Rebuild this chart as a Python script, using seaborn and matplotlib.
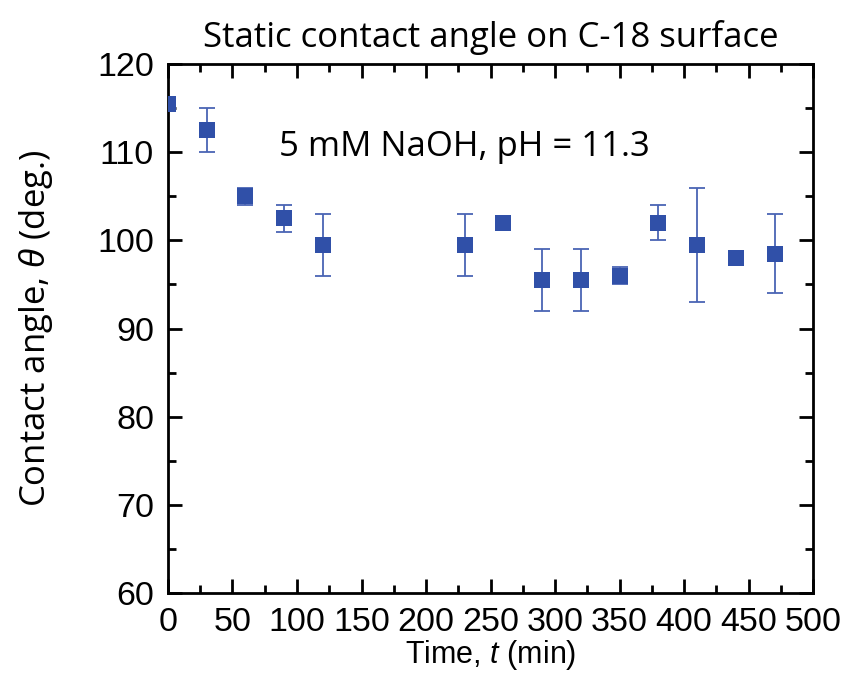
import matplotlib
matplotlib.use("Agg")
import matplotlib.pyplot as plt
import seaborn as sns
import pandas as pd
from matplotlib.ticker import MultipleLocator

# 時間 (min) と接触角 (deg.)
time_min = [0, 30, 60, 90, 120, 230, 260, 290, 320, 350, 380, 410, 440, 470]
angle = [115.5, 112.5, 105.0, 102.5, 99.5, 99.5, 102.0, 95.5, 95.5, 96.0, 102.0, 99.5, 98.0, 98.5]
err_low = [0.0, 2.5, 1.0, 1.5, 3.5, 3.5, 0.0, 3.5, 3.5, 1.0, 2.0, 6.5, 0.0, 4.5]
err_high = [0.0, 2.5, 1.0, 1.5, 3.5, 3.5, 0.0, 3.5, 3.5, 1.0, 2.0, 6.5, 0.0, 4.5]

df = pd.DataFrame({"time": time_min, "angle": angle})

sns.set_style("ticks")
plt.rcParams['font.family'] = ['Liberation Sans', 'DejaVu Sans']
plt.rcParams['text.color'] = 'black'
plt.rcParams['axes.labelcolor'] = 'black'
plt.rcParams['xtick.color'] = 'black'
plt.rcParams['ytick.color'] = 'black'
plt.rcParams['mathtext.fontset'] = 'custom'
plt.rcParams['mathtext.it'] = 'Liberation Sans:italic'
plt.rcParams['mathtext.rm'] = 'Liberation Sans'

fig = plt.figure(figsize=(8.48, 6.75), dpi=100)
ax = fig.add_axes([0.198, 0.1215, 0.761, 0.7835])

blue = "#3050a8"

# エラーバー
ax.errorbar(time_min, angle, yerr=[err_low, err_high], fmt="none",
            ecolor="#4a64b4", elinewidth=1.3, capsize=6, capthick=1.3, zorder=2)

# 散布図
sns.scatterplot(data=df, x="time", y="angle", marker="s", s=145, color=blue,
                edgecolor=blue, linewidth=0, ax=ax, zorder=3)

ax.set_xlim(0, 500)
ax.set_ylim(60, 120)
ax.xaxis.set_major_locator(MultipleLocator(50))
ax.xaxis.set_minor_locator(MultipleLocator(25))
ax.yaxis.set_major_locator(MultipleLocator(10))
ax.yaxis.set_minor_locator(MultipleLocator(5))

ax.tick_params(which="both", direction="in", top=True, right=True, width=2,
               labelsize=24.5, pad=10)
ax.tick_params(which="major", length=10)
ax.tick_params(which="minor", length=6)
for s in ax.spines.values():
    s.set_linewidth(2)
    s.set_color("black")

ax.set_xlabel("Time, $t$ (min)", fontsize=22, labelpad=0)
ax.set_ylabel(r"Contact angle, $\theta$ (deg.)", fontsize=25, family="Open Sans", labelpad=30)
ax.set_title("Static contact angle on C-18 surface", fontsize=25, family="Open Sans", pad=12)

ax.text(230, 110.6, "5 mM NaOH, pH = 11.3", fontsize=25, family="Open Sans",
        ha="center", va="center")

fig.savefig("out.png", dpi=100)
